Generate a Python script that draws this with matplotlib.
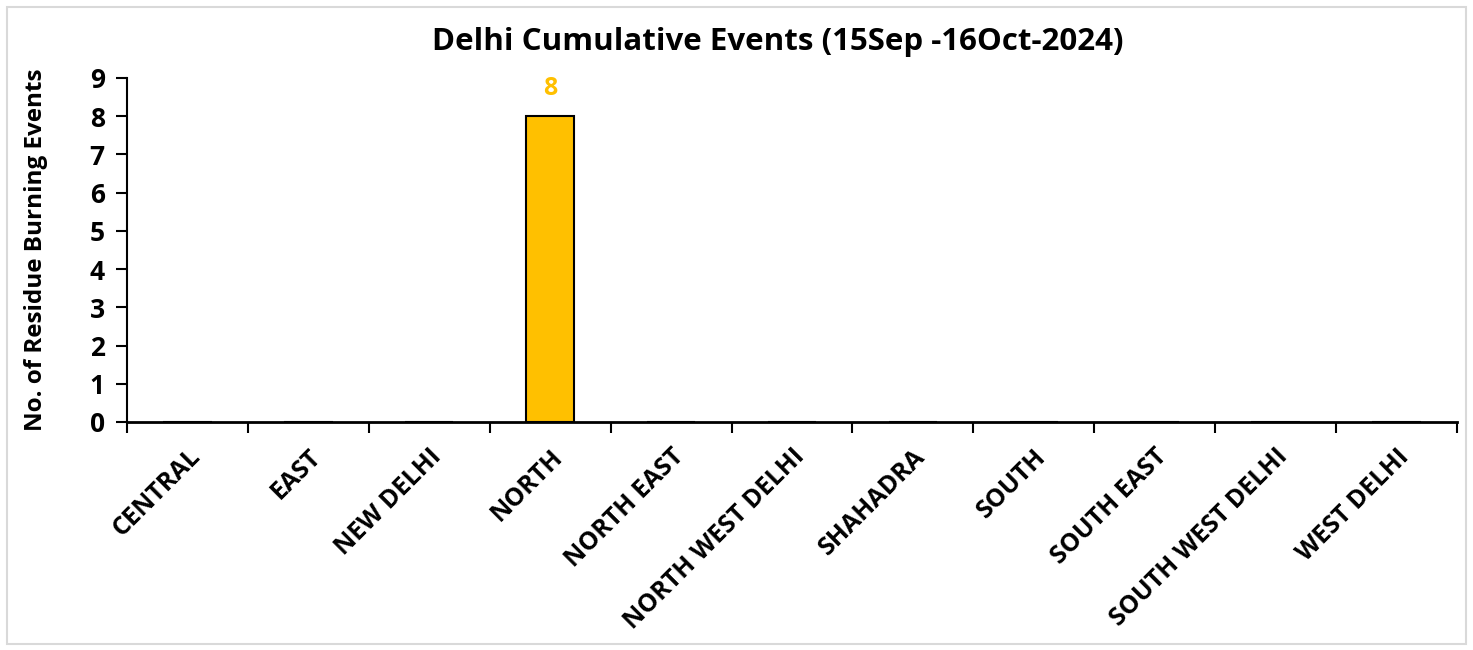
import matplotlib
matplotlib.use("Agg")
import matplotlib.pyplot as plt
from matplotlib.patches import Rectangle
import numpy as np

districts = ["CENTRAL", "EAST", "NEW DELHI", "NORTH", "NORTH EAST",
             "NORTH WEST DELHI", "SHAHADRA", "SOUTH", "SOUTH EAST",
             "SOUTH WEST DELHI", "WEST DELHI"]
events = [0, 0, 0, 8, 0, 0, 0, 0, 0, 0, 0]

plt.rcParams['font.family'] = ['Open Sans', 'DejaVu Sans']
plt.rcParams['font.weight'] = 'bold'

fig = plt.figure(figsize=(14.73, 6.5), dpi=100)
ax = fig.add_axes([0.0862, 0.3508, 0.9029, 0.5292])

# border round the chart area
fig.patches.append(Rectangle((0.005, 0.01), 0.99, 0.98, transform=fig.transFigure,
                             fill=False, edgecolor='#d9d9d9', linewidth=1.5))

x = np.arange(len(districts))
ax.bar(x, events, width=0.4, color='#FFC000', edgecolor='black', linewidth=1.5)
for xi, v in zip(x, events):
    if v > 0:
        ax.text(xi, v + 0.4, str(v), ha='center', va='bottom', color='#FFC000',
                fontsize=18, fontweight='bold')

ax.set_xlim(-0.5, len(districts) - 0.5)
ax.set_ylim(0, 9)
ax.set_yticks(range(0, 10))
ax.set_xticks(np.arange(-0.5, len(districts)), minor=False)
ax.set_xticklabels([])
ax.set_xticks(x, minor=True)
ax.set_xticklabels(districts, minor=True, rotation=45, ha='right',
                   rotation_mode='anchor', fontsize=18, fontweight='bold')
ax.tick_params(axis='x', which='minor', length=0, pad=16)
ax.tick_params(axis='x', which='major', length=8, width=1.5, direction='out')
ax.tick_params(axis='y', length=8, width=1.5, labelsize=19, pad=8)
for lab in ax.get_yticklabels():
    lab.set_fontweight('bold')

for s in ['top', 'right']:
    ax.spines[s].set_visible(False)
ax.spines['left'].set_linewidth(1.5)
ax.spines['bottom'].set_linewidth(2)

ax.set_ylabel('No. of Residue Burning Events', fontsize=17.5, fontweight='bold', labelpad=30)
ax.set_title('Delhi Cumulative Events (15Sep -16Oct-2024)', fontsize=22.5,
             fontweight='bold', pad=20, x=0.489)

fig.savefig('out.png', dpi=100)
